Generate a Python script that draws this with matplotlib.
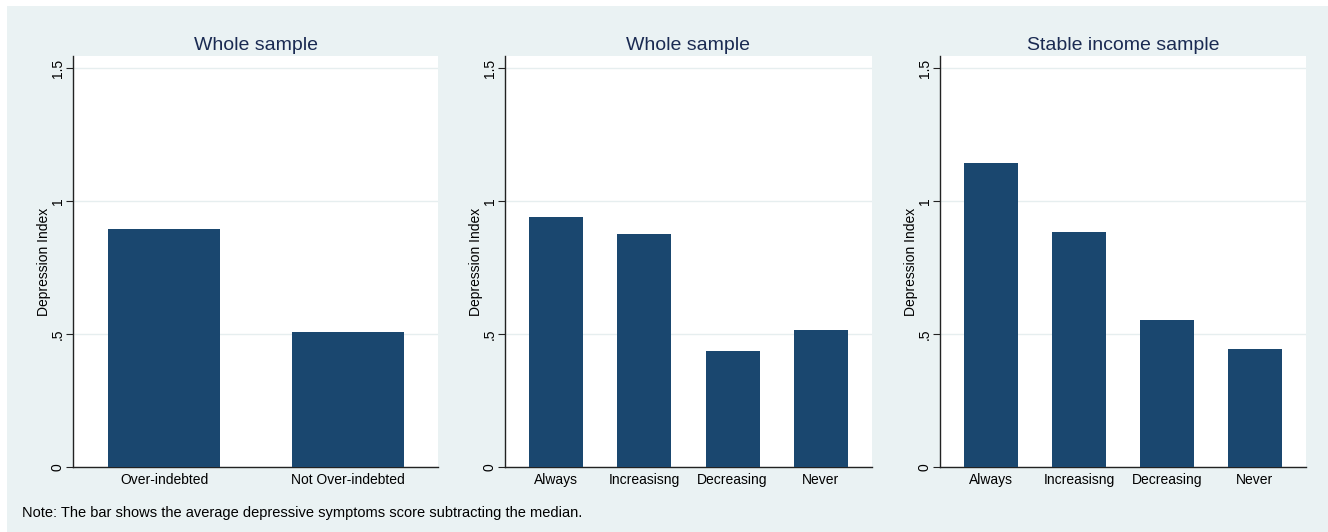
import matplotlib.pyplot as plt
from matplotlib.patches import Rectangle

# depression index by group (average score minus median)
debt_groups = ['Over-indebted', 'Not Over-indebted']
debt_values = [0.894, 0.508]

path_groups = ['Always', 'Increasisng', 'Decreasing', 'Never']
whole_values = [0.939, 0.875, 0.436, 0.515]
stable_values = [1.144, 0.883, 0.553, 0.443]

titles = ['Whole sample', 'Whole sample', 'Stable income sample']
yticks = [0, 0.5, 1, 1.5]
yticklabels = ['0', '.5', '1', '1.5']

bar_color = '#1a476f'
bg_color = '#eaf2f3'
title_color = '#1a2a52'

plt.rcParams['font.family'] = ['Liberation Sans', 'DejaVu Sans']

W, H = 1328, 532
fig = plt.figure(figsize=(W / 100, H / 100), dpi=100, facecolor='white')
fig.patches.append(Rectangle((7 / W, 0), 1 - 7 / W, 1 - 6 / H,
                             transform=fig.transFigure, facecolor=bg_color,
                             edgecolor='none', zorder=-10))

# panel boxes in pixels: left, right
panels = [(73, 438), (505, 872), (940, 1306)]
top, bottom = 56, 467
data = [(debt_groups, debt_values), (path_groups, whole_values),
        (path_groups, stable_values)]

for (x0, x1), (cats, vals), title in zip(panels, data, titles):
    ax = fig.add_axes([x0 / W, 1 - bottom / H, (x1 - x0) / W, (bottom - top) / H])
    ax.set_facecolor('white')
    pos = list(range(len(cats)))
    ax.bar(pos, vals, width=0.61, color=bar_color, zorder=3)
    if len(cats) == 2:
        ax.set_xlim(-0.496, 1.492)
    else:
        ax.set_xlim(-0.58, 3.58)
    ax.set_ylim(0, 1.545)
    ax.set_yticks(yticks)
    ax.set_yticklabels(yticklabels, rotation=90, va='center', fontsize=10)
    ax.set_xticks(pos)
    ax.set_xticklabels(cats, fontsize=10)
    ax.tick_params(axis='x', length=0, pad=4.5)
    ax.tick_params(axis='y', length=5, width=0.8, pad=1, color='#222222')
    ax.grid(axis='y', color='#e6eeef', linewidth=1, zorder=0)
    for s in ['top', 'right']:
        ax.spines[s].set_visible(False)
    for s in ['left', 'bottom']:
        ax.spines[s].set_color('#222222')
        ax.spines[s].set_linewidth(1)
    ax.set_ylabel('Depression Index', fontsize=10, labelpad=0)
    ax.set_title(title, fontsize=14, color=title_color, pad=4)

fig.text(22 / W, 1 - 513 / H, 'Note: The bar shows the average depressive symptoms score subtracting the median.',
         fontsize=10.5, va='center', ha='left')

fig.savefig('out.png', dpi=100, facecolor=fig.get_facecolor())
